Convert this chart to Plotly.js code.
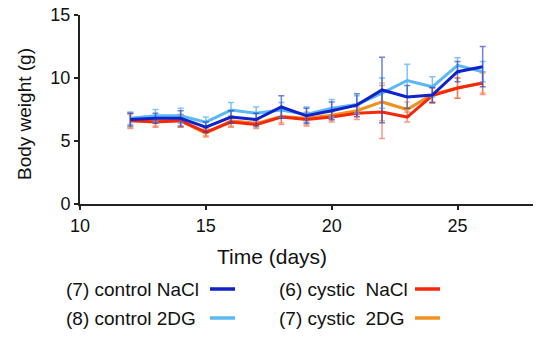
<!DOCTYPE html>
<html><head><meta charset="utf-8">
<script src="https://cdn.plot.ly/plotly-3.0.1.min.js"></script>
<style>html,body{margin:0;padding:0;background:#fff}#chart{width:537px;height:338px}</style>
</head><body><div id="chart"></div>
<script>
const days = [12,13,14,15,16,17,18,19,20,21,22,23,24,25,26];
const controlNaCl = [6.7,6.8,6.8,6.1,6.9,6.7,7.7,7.0,7.4,7.85,9.05,8.5,8.65,10.5,10.9];
const controlNaClErr = [0.5,0.4,0.6,0.4,0.5,0.5,0.9,0.6,0.7,0.9,2.6,0.9,0.6,0.8,1.6];
const control2DG = [6.8,7.0,7.0,6.5,7.45,7.2,7.45,7.1,7.6,7.9,8.8,9.8,9.3,11.0,10.5];
const control2DGErr = [0.5,0.5,0.6,0.4,0.6,0.5,0.6,0.6,0.7,0.7,1.2,1.3,0.8,0.6,0.8];
const cysticNaCl = [6.6,6.5,6.6,5.7,6.5,6.3,6.9,6.7,6.9,7.2,7.3,6.9,8.6,9.2,9.6];
const cysticNaClErr = [0.6,0.4,0.5,0.3,0.4,0.3,0.6,0.5,0.4,0.5,2.1,0.4,0.6,0.8,0.9];
const cystic2DG = [6.6,6.6,6.6,5.6,6.6,6.4,6.95,6.8,7.05,7.4,8.1,7.5,8.7,9.2,9.6];
const cystic2DGErr = [0.5,0.4,0.5,0.3,0.4,0.3,0.5,0.5,0.4,0.5,1.5,0.6,0.6,0.8,0.8];
const xTicks = [10,15,20,25];
const yTicks = [0,5,10,15];
const names = ['(7) control NaCl','(8) control 2DG','(6) cystic  NaCl','(7) cystic  2DG'];
const xTitle = 'Time (days)';
const yTitle = 'Body weight (g)';
const colors = ['#1022c8','#5ab8f2','#f5280a','#f0901e'];
const errColors = ['rgba(40,60,200,0.65)','rgba(90,184,242,0.8)','rgba(240,80,60,0.6)','rgba(240,144,30,0.6)'];
const series = [controlNaCl, control2DG, cysticNaCl, cystic2DG];
const errs = [controlNaClErr, control2DGErr, cysticNaClErr, cystic2DGErr];
const order = [3,2,1,0];
const traces = order.map(i => ({
  x: days, y: series[i], type:'scatter', mode:'lines', name:names[i],
  line:{color:colors[i], width:3},
  error_y:{type:'data', array:errs[i], visible:true, color:errColors[i], thickness:1.5, width:3},
  showlegend:false
}));
const font = 'Liberation Sans, Arial, sans-serif';
const W = 453, H = 189, L = 80, B = 204;
const px = v => (v - L) / W;
const py = v => (B - v) / H;
const annotations = [
  {xref:'paper',yref:'paper',x:px(272),y:py(256),text:xTitle,showarrow:false,xanchor:'center',yanchor:'middle',
   font:{family:font,size:21,color:'#111'}},
  {xref:'paper',yref:'paper',x:px(24),y:py(114),text:yTitle,showarrow:false,xanchor:'center',yanchor:'middle',textangle:-90,
   font:{family:font,size:19,color:'#111'}}
];
const shapes = [];
const legPos = [[64,210,289],[64,210,318],[277,415,289],[277,415,318]];
names.forEach((n,i)=>{
  const [tx,lx,ly]=legPos[i];
  annotations.push({xref:'paper',yref:'paper',x:px(tx),y:py(ly),text:n,showarrow:false,
    xanchor:'left',yanchor:'middle',font:{family:font,size:19,color:'#111'}});
  shapes.push({type:'line',xref:'paper',yref:'paper',x0:px(lx),x1:px(lx+25),
    y0:py(ly),y1:py(ly),line:{color:colors[i],width:3.5}});
});
const layout = {
  width:537,height:338,margin:{l:80,r:4,t:15,b:134},
  paper_bgcolor:'#fff',plot_bgcolor:'#fff',
  font:{family:font,size:18,color:'#111'},
  xaxis:{range:[10,28],tickvals:xTicks,ticks:'outside',ticklen:4,tickwidth:2,tickcolor:'#222',
    showline:true,linewidth:2,linecolor:'#222',showgrid:false,zeroline:false,
    tickfont:{family:font,size:18,color:'#111'}},
  yaxis:{range:[0,15],tickvals:yTicks,ticks:'outside',ticklen:4,tickwidth:2,tickcolor:'#222',
    showline:true,linewidth:2,linecolor:'#222',showgrid:false,zeroline:false,
    tickfont:{family:font,size:18,color:'#111'}},
  annotations:annotations, shapes:shapes
};
Plotly.newPlot('chart',traces,layout,{displayModeBar:false,staticPlot:true});
</script></body></html>
